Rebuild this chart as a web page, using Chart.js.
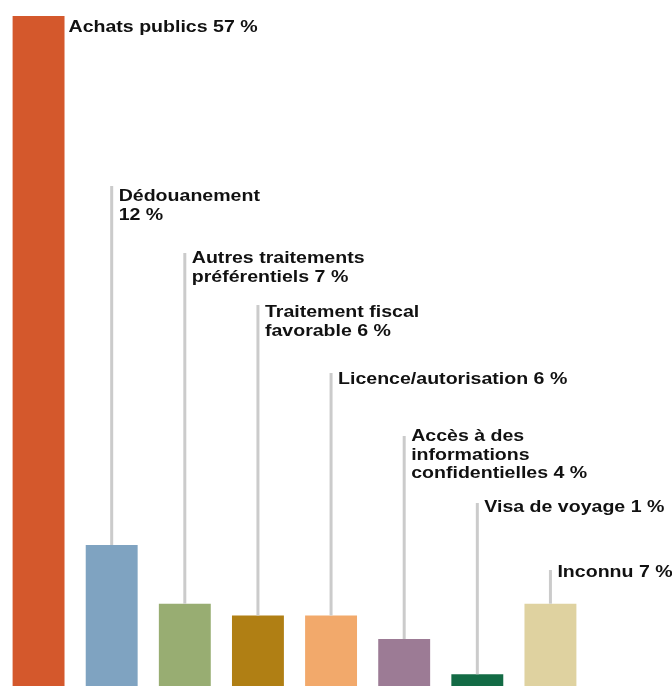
<!DOCTYPE html>
<html lang="fr">
<head>
<meta charset="utf-8">
<title>Répartition par type d'avantage</title>
<script src="https://cdn.jsdelivr.net/npm/chart.js@4"></script>
<style>
  html, body { margin: 0; padding: 0; background: #ffffff; }
  #wrap { width: 672px; height: 686px; position: relative; }
</style>
</head>
<body>
<div id="wrap"><canvas id="chart" width="672" height="686"></canvas></div>
<script>
// Category names, split into the lines used by the callout labels
const categories = [
  ['Achats publics'],
  ['Dédouanement', ''],
  ['Autres traitements', 'préférentiels'],
  ['Traitement fiscal', 'favorable'],
  ['Licence/autorisation'],
  ['Accès à des', 'informations', 'confidentielles'],
  ['Visa de voyage'],
  ['Inconnu']
];

// Share of cases, in percent
const values = [57, 12, 7, 6, 6, 4, 1, 7];

// Bar fills
const colors = ['#d4582c', '#7fa3c1', '#98ad72', '#b07f14', '#f2a96b', '#9c7b95', '#136b45', '#dfd2a0'];

// Callout text: the value goes at the end of the last line
function labelLines(i) {
  const lines = categories[i].slice();
  const last = lines.length - 1;
  lines[last] = (lines[last] + ' ' + values[i] + ' %').trim();
  return lines;
}

// Callout layout (px from the top): first text baseline and where the stem starts
const textBaselines = [32, 201, 263, 317, 384, 441, 512, 577];
const stemTops = [null, 186, 253, 305, 373, 436, 503, 570];

const FONT = 'bold 17px "Liberation Sans", Arial, Helvetica, sans-serif';
const TEXT_STRETCH = 1.15; // labels are set slightly wide

const calloutPlugin = {
  id: 'callouts',
  afterDatasetsDraw(chart) {
    const ctx = chart.ctx;
    const meta = chart.getDatasetMeta(0);
    ctx.save();
    ctx.font = FONT;
    ctx.fillStyle = '#111111';
    ctx.textBaseline = 'alphabetic';
    ctx.textAlign = 'left';
    meta.data.forEach((bar, i) => {
      const lines = labelLines(i);
      let tx;
      if (i === 0) {
        tx = bar.x + bar.width / 2 + 4;
      } else {
        ctx.strokeStyle = '#cbcbcb';
        ctx.lineWidth = 3;
        ctx.beginPath();
        ctx.moveTo(bar.x, stemTops[i]);
        ctx.lineTo(bar.x, bar.y);
        ctx.stroke();
        tx = bar.x + 7;
      }
      lines.forEach((ln, k) => {
        ctx.save();
        ctx.translate(tx, textBaselines[i] + k * 18.5);
        ctx.scale(TEXT_STRETCH, 1);
        ctx.fillText(ln, 0, 0);
        ctx.restore();
      });
    });
    ctx.restore();
  }
};

function draw() {
  new Chart(document.getElementById('chart'), {
    type: 'bar',
    data: {
      labels: categories.map(c => c.join(' ').trim()),
      datasets: [{
        data: values,
        backgroundColor: colors,
        borderWidth: 0,
        barPercentage: 0.71,
        categoryPercentage: 1
      }]
    },
    options: {
      responsive: false,
      animation: false,
      layout: { padding: { left: 2, right: 85, top: 0, bottom: 0 } },
      plugins: {
        legend: { display: false },
        tooltip: { enabled: false }
      },
      scales: {
        x: { display: false },
        y: { display: false, min: 0, max: 58.36 }
      }
    },
    plugins: [calloutPlugin]
  });
}

if (document.fonts && document.fonts.load) {
  document.fonts.load(FONT).then(draw, draw);
} else {
  draw();
}
</script>
</body>
</html>
